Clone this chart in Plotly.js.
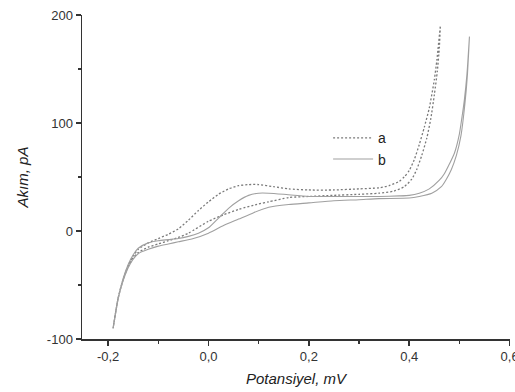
<!DOCTYPE html>
<html>
<head>
<meta charset="utf-8">
<script src="https://cdn.plot.ly/plotly-3.0.1.min.js"></script>
<style>html,body{margin:0;padding:0;background:#fff;}#chart{width:515px;height:392px;}</style>
</head>
<body>
<div id="chart"></div>
<script>
// Curve a (dotted): forward sweep then reverse sweep
const aFwdX = [-0.19,-0.18,-0.17,-0.16,-0.15,-0.14,-0.12,-0.10,-0.08,-0.06,-0.04,-0.02,0.00,0.02,0.04,0.06,0.08,0.10,0.13,0.16,0.20,0.25,0.30,0.34,0.36,0.38,0.39,0.40,0.41,0.42,0.43,0.44,0.45,0.455,0.462];
const aFwdY = [-90,-62,-45,-32,-23,-17,-11,-7,-3,2,10,19,27,34,39,42,43,43,41,39,38,38,39,40,42,46,50,56,66,80,96,114,140,158,190];
const aRevX = [0.462,0.46,0.456,0.45,0.443,0.435,0.425,0.415,0.405,0.39,0.37,0.34,0.30,0.25,0.20,0.16,0.12,0.10,0.06,0.03,0.00,-0.04,-0.06,-0.08,-0.10,-0.12,-0.14,-0.15,-0.16,-0.17,-0.18,-0.19];
const aRevY = [190,170,148,126,104,86,70,57,48,41,37,35,34,33,32,31,27,25,20,15,9,-2,-6,-9,-12,-15,-20,-25,-33,-45,-62,-90];
// Curve b (solid): forward sweep then reverse sweep
const bFwdX = [-0.19,-0.18,-0.17,-0.16,-0.15,-0.14,-0.12,-0.10,-0.08,-0.06,-0.04,-0.02,0.00,0.02,0.04,0.06,0.08,0.10,0.12,0.15,0.20,0.25,0.30,0.34,0.38,0.40,0.42,0.44,0.46,0.47,0.48,0.49,0.50,0.505,0.51,0.515,0.52];
const bFwdY = [-90,-62,-44,-31,-22,-16,-11,-9,-8,-7,-5,-2,3,12,21,28,33,35,35,34,32,32,32,32,32.5,33,35,39,47,53,62,72,90,105,122,145,180];
const bRevX = [0.52,0.516,0.511,0.503,0.494,0.484,0.474,0.464,0.445,0.42,0.40,0.34,0.30,0.25,0.20,0.16,0.12,0.09,0.06,0.03,0.00,-0.03,-0.06,-0.08,-0.10,-0.12,-0.14,-0.15,-0.16,-0.17,-0.18,-0.19];
const bRevY = [180,145,118,88,70,57,48,41,35,32,30.5,30,29,28,26,24.5,22,17,11,5,-2,-7,-10,-12,-14,-17,-21,-26,-34,-46,-63,-90];

const xTickVals = [-0.2,0.0,0.2,0.4,0.6];
const xTickText = ['-0,2','0,0','0,2','0,4','0,6'];
const xMinorVals = [-0.1,0.1,0.3,0.5];
const yTickVals = [-100,0,100,200];
const yTickText = ['-100','0','100','200'];
const yMinorVals = [-50,50,150];

const traces = [
  {x: aFwdX.concat(aRevX), y: aFwdY.concat(aRevY), name: 'a', mode: 'lines',
   line: {color: '#7a7a7a', width: 1.3, dash: '2px,2px', shape: 'spline', smoothing: 0.6}},
  {x: bFwdX.concat(bRevX), y: bFwdY.concat(bRevY), name: 'b', mode: 'lines',
   line: {color: '#a0a0a0', width: 1.1, shape: 'spline', smoothing: 0.6}}
];

const axisCommon = {
  showline: true, linecolor: '#333', linewidth: 1.5,
  ticks: 'outside', ticklen: 5, tickwidth: 1.5, tickcolor: '#333',
  showgrid: false, zeroline: false, mirror: false, ticklabeloverflow: 'allow',
  tickfont: {family: 'Liberation Sans, Arial, sans-serif', size: 13, color: '#333'}
};

const layout = {
  width: 515, height: 392,
  margin: {l: 82, r: 5, t: 15, b: 53},
  paper_bgcolor: '#fff', plot_bgcolor: '#fff',
  showlegend: true,
  legend: {x: 0.575, y: 0.669, xanchor: 'left', yanchor: 'top', bgcolor: 'rgba(0,0,0,0)', itemwidth: 40,
           font: {family: 'Liberation Sans, Arial, sans-serif', size: 14, color: '#222'}},
  xaxis: Object.assign({}, axisCommon, {
    range: [-0.252, 0.6008], tickmode: 'array', tickvals: xTickVals, ticktext: xTickText,
    minor: {tickmode: 'array', tickvals: xMinorVals, ticks: 'outside', ticklen: 3, tickwidth: 1.2, tickcolor: '#333', showgrid: false},
    title: {text: 'Potansiyel, mV', standoff: 10,
            font: {family: 'Liberation Sans, Arial, sans-serif', size: 15, style: 'italic', color: '#222'}}
  }),
  yaxis: Object.assign({}, axisCommon, {
    range: [-100, 200], tickmode: 'array', tickvals: yTickVals, ticktext: yTickText,
    minor: {tickmode: 'array', tickvals: yMinorVals, ticks: 'outside', ticklen: 3, tickwidth: 1.2, tickcolor: '#333', showgrid: false},
    title: {text: 'Akım, pA', standoff: 14,
            font: {family: 'Liberation Sans, Arial, sans-serif', size: 15, style: 'italic', color: '#222'}}
  })
};

Plotly.newPlot('chart', traces, layout, {displayModeBar: false, staticPlot: true});
</script>
</body>
</html>
